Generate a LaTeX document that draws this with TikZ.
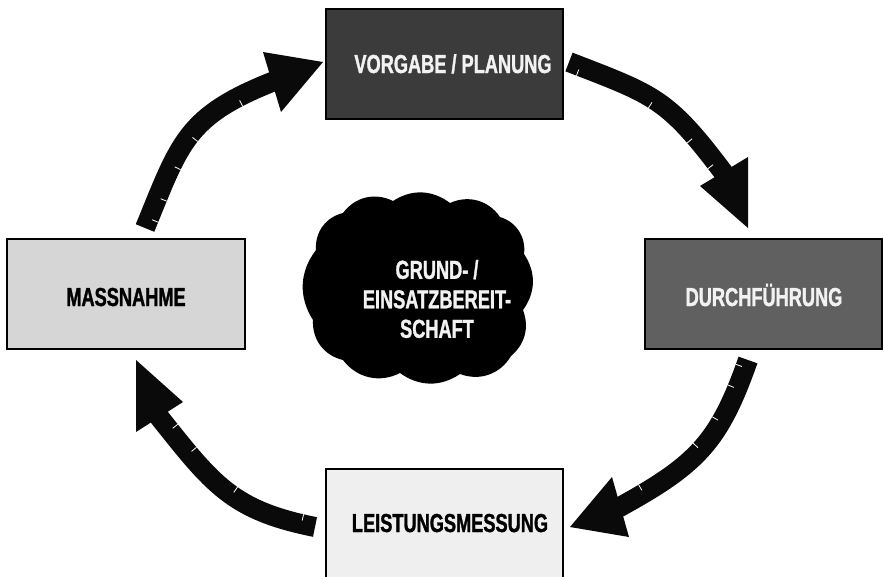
\documentclass[tikz,border=0pt]{standalone}
\usepackage{fontspec}
\setmainfont[FakeStretch=0.70, BoldFeatures={FakeBold=1.2}]{Liberation Sans}
\usetikzlibrary{decorations.markings}
\definecolor{planfill}{HTML}{3B3B3B}
\definecolor{durchfill}{HTML}{606060}
\definecolor{massfill}{HTML}{D6D6D6}
\definecolor{leistfill}{HTML}{EFEFEF}
\definecolor{lighttext}{HTML}{F2F2F2}
\definecolor{arrowblack}{HTML}{0A0A0A}
\tikzset{
  stagebox/.style={draw=black, line width=1.1pt, rectangle, inner sep=0pt},
  stagetext/.style={font=\fontsize{26}{30}\selectfont\bfseries, anchor=base, inner sep=0pt},
  shaft/.style={draw=arrowblack, line width=20pt, line cap=butt},
  headfill/.style={fill=arrowblack},
  tickat/.style={postaction={decorate,decoration={markings,
      mark=at position #1 with {\draw[white,line width=0.8pt] (0pt,-10pt) -- (0pt,-3.5pt);}}}}
}
\begin{document}
\begin{tikzpicture}[x=1pt,y=-1pt]
\useasboundingbox (0,0) rectangle (884,576);
\fill[white] (0,0) rectangle (884,576);

% stage boxes
\node[stagebox, fill=planfill, minimum width=237pt, minimum height=110pt] (plan) at (444.5,64) {};
\node[stagebox, fill=durchfill, minimum width=237pt, minimum height=110pt] (durch) at (763.5,294) {};
\node[stagebox, fill=massfill, minimum width=238pt, minimum height=110pt] (mass) at (126,294) {};
\node[stagebox, fill=leistfill, minimum width=237pt, minimum height=114pt] (leist) at (444.5,526) {};

\node[stagetext, text=lighttext] (plantxt) at (453,73) {VORGABE / PLANUNG};
\node[stagetext, text=lighttext] (durchtxt) at (764,306) {DURCHFÜHRUNG};
\node[stagetext, text=black] (masstxt) at (126,306) {MASSNAHME};
\node[stagetext, text=black] (leisttxt) at (450,532) {LEISTUNGSMESSUNG};

% cloud
\coordinate (k1) at (316,250);
\coordinate (k2) at (343,213);
\coordinate (k3) at (393,201);
\coordinate (k4) at (450,203);
\coordinate (k5) at (500,217);
\coordinate (k6) at (524,254);
\coordinate (k7) at (523,310);
\coordinate (k8) at (511,356);
\coordinate (k9) at (460,374);
\coordinate (k10) at (400,373);
\coordinate (k11) at (343,360);
\coordinate (k12) at (313,320);
\fill[black] (k1) to[bend left=40] (k2) to[bend left=40] (k3) to[bend left=35] (k4)
  to[bend left=40] (k5) to[bend left=40] (k6) to[bend left=35] (k7) to[bend left=35] (k8)
  to[bend left=40] (k9) to[bend left=35] (k10) to[bend left=40] (k11) to[bend left=40] (k12)
  to[bend left=35] (k1) -- cycle;
\fill[black] (418,288) ellipse[x radius=95pt, y radius=74pt];
\node[font=\fontsize{26}{29.5}\selectfont\bfseries, text=lighttext, align=center, inner sep=0pt]
  (cloudtxt) at (437,299) {GRUND- /\\EINSATZBEREIT-\\SCHAFT};

% arrow coordinates
\coordinate (t1) at (145,228);
\coordinate (b1) at (275.7,80.5);
\coordinate (t2) at (569,62);
\coordinate (b2) at (725.4,175.2);
\coordinate (t3) at (748,360);
\coordinate (b3) at (617,508.5);
\coordinate (t4) at (315,527);
\coordinate (b4) at (157.5,414.9);

% arrow 1: Massnahme -> Vorgabe
\draw[shaft, tickat=0.05, tickat=0.16, tickat=0.33, tickat=0.5, tickat=0.8]
  (t1) .. controls (180.4,142) and (185.4,115.9) .. (b1);
\fill[headfill] (263,52) -- (323,62) -- (281,112) -- cycle;

% arrow 2: Vorgabe -> Durchfuehrung
\draw[shaft, tickat=0.06, tickat=0.47, tickat=0.75, tickat=0.92]
  (t2) .. controls (655.5,95.5) and (667.2,97.6) .. (b2);
\fill[headfill] (700,186) -- (748,157) -- (748,228) -- cycle;

% arrow 3: Durchfuehrung -> Leistungsmessung
\draw[shaft, tickat=0.04, tickat=0.15, tickat=0.33, tickat=0.5, tickat=0.85]
  (t3) .. controls (719,442) and (697.7,464.4) .. (b3);
\fill[headfill] (612,477) -- (570,527) -- (629,537) -- cycle;

% arrow 4: Leistungsmessung -> Massnahme
\draw[shaft, tickat=0.07, tickat=0.45, tickat=0.75, tickat=0.9]
  (t4) .. controls (231.6,510.3) and (212.7,484.3) .. (b4);
\fill[headfill] (183,402) -- (136,360) -- (136,432) -- cycle;
\end{tikzpicture}
\end{document}
